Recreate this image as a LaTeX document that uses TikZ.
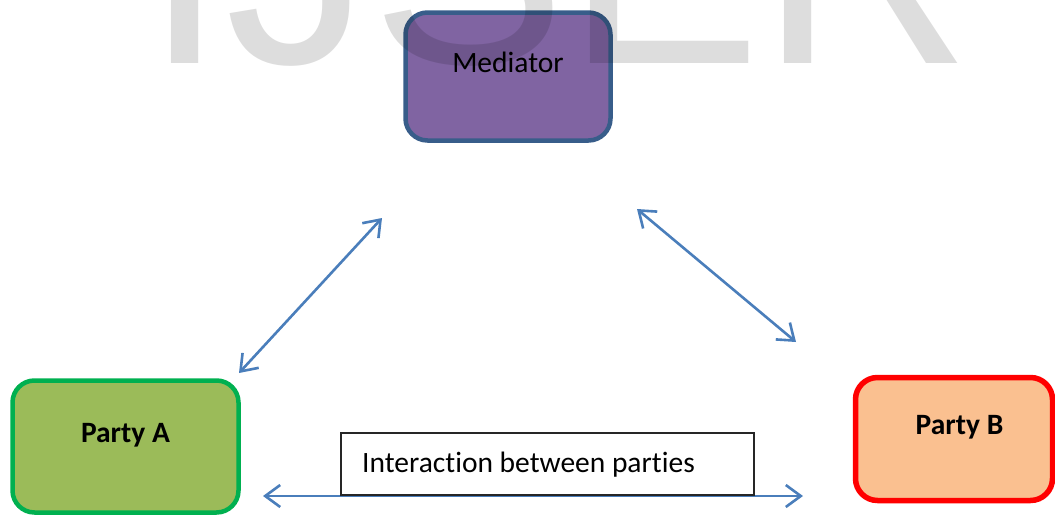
\documentclass[tikz,border=0pt]{standalone}
\usepackage{fontspec}
\setmainfont{Carlito}[Ligatures=NoCommon]
\newfontfamily\wmfont{Liberation Sans}
\usetikzlibrary{arrows.meta}
\definecolor{medfill}{RGB}{128,100,162}
\definecolor{medline}{RGB}{56,93,138}
\definecolor{afill}{RGB}{155,187,89}
\definecolor{aline}{RGB}{0,176,80}
\definecolor{bfill}{RGB}{250,192,144}
\definecolor{bline}{RGB}{255,0,0}
\definecolor{arrowblue}{RGB}{74,126,187}
\begin{document}
\begin{tikzpicture}[x=1pt,y=-1pt,
  box/.style={draw, rounded corners=22pt, inner sep=0pt},
  medbox/.style={box, fill=medfill, draw=medline, line width=4.5pt, minimum width=205pt, minimum height=128pt},
  abox/.style={box, fill=afill, draw=aline, line width=4.5pt, minimum width=226pt, minimum height=132pt},
  bbox/.style={box, fill=bfill, draw=bline, line width=5.5pt, minimum width=197pt, minimum height=123pt},
  ibox/.style={draw=black!85, line width=1.1pt, fill=white, inner sep=0pt, minimum width=413pt, minimum height=62pt},
  lbl/.style={inner sep=0pt, anchor=base, font=\fontsize{29.5}{35}\selectfont},
  blbl/.style={inner sep=0pt, anchor=base, font=\fontsize{29.5}{35}\selectfont\bfseries},
  link/.style={draw=arrowblue, line width=2.6pt,
    {Straight Barb[length=15pt,width=22pt]}-{Straight Barb[length=15pt,width=22pt]}},
  watermark/.style={inner sep=0pt, anchor=base west, text=black, text opacity=0.135,
    font=\wmfont\fontsize{292}{300}\selectfont}
]
\useasboundingbox (0,0) rectangle (1055,515);
\clip (0,0) rectangle (1055,515);

% boxes
\node[medbox] (med) at (508,76.5) {};
\node[lbl] (medtext) at (508,72) {Mediator};

\node[abox] (pa) at (125.5,446.5) {};
\node[blbl] (patext) at (125.5,442) {Party A};

\node[bbox] (pb) at (954,439) {};
\node[blbl] (pbtext) at (959.5,434) {Party B};

% connectors
\coordinate (l1) at (239,373);
\coordinate (l2) at (382,218);
\coordinate (r1) at (637,209);
\coordinate (r2) at (796,342);
\coordinate (h1) at (263,496);
\coordinate (h2) at (803,496);

\draw[link] (l1) -- (l2);
\draw[link] (r1) -- (r2);
\draw[link] (h1) -- (h2);

\node[ibox] (inter) at (547.5,464) {};
\node[lbl, anchor=base west] (intertext) at (362,472) {Interaction between parties};

% watermark
\node[watermark] (wm) at (144,63) {IJSER};
\end{tikzpicture}
\end{document}
